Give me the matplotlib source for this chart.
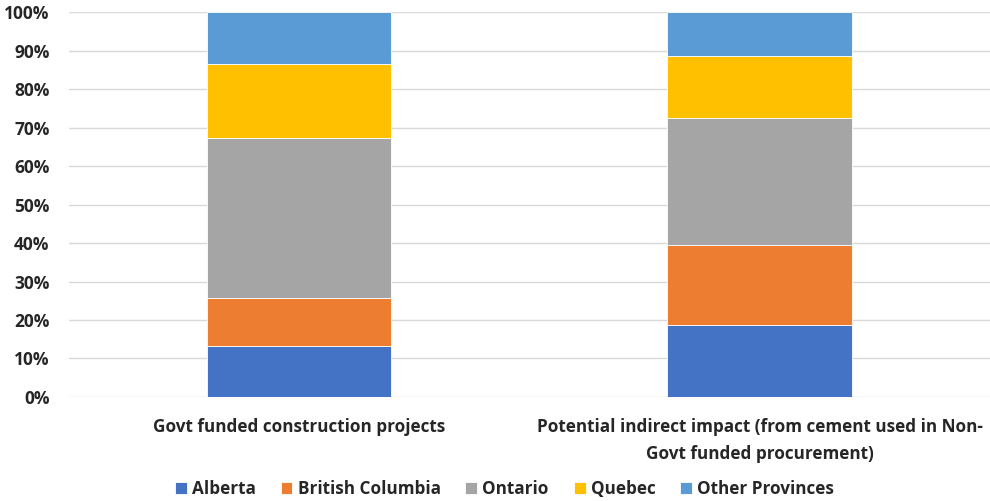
import matplotlib.pyplot as plt
from matplotlib.ticker import PercentFormatter

plt.rcParams['font.family'] = ['Open Sans', 'DejaVu Sans']

categories = ["Govt funded construction projects",
              "Potential indirect impact (from cement used in Non-\nGovt funded procurement)"]
series = ["Alberta", "British Columbia", "Ontario", "Quebec", "Other Provinces"]
alberta = [13.2, 18.7]
british_columbia = [12.4, 20.8]
ontario = [41.8, 33.0]
quebec = [19.2, 16.2]
other = [13.4, 11.3]
colors = ["#4472C4", "#ED7D31", "#A5A5A5", "#FFC000", "#5B9BD5"]

fig = plt.figure(figsize=(9.9, 5.01), dpi=100)
ax = fig.add_axes([0.0697, 0.2076, 0.93, 0.7684])

x = range(len(categories))
bottom = [0.0, 0.0]
for name, vals, c in zip(series, [alberta, british_columbia, ontario, quebec, other], colors):
    ax.bar(x, vals, width=0.4, bottom=bottom, color=c, label=name,
           edgecolor="white", linewidth=0.6, zorder=3)
    bottom = [b + v for b, v in zip(bottom, vals)]

ax.set_xlim(-0.5, 1.5)
ax.set_ylim(0, 100)
ax.set_yticks(range(0, 101, 10))
ax.yaxis.set_major_formatter(PercentFormatter(decimals=0))
ax.grid(axis="y", color="#d9d9d9", linewidth=1, zorder=0)
for s in ax.spines.values():
    s.set_visible(False)
ax.tick_params(axis="both", length=0, colors="#262626")
ax.tick_params(axis="y", pad=14, labelsize=12.5)
ax.tick_params(axis="x", pad=15, labelsize=12.3)
ax.set_xticks(list(x))
ax.set_xticklabels(categories, fontweight="bold", linespacing=1.65)
for t in ax.get_yticklabels():
    t.set_fontweight("bold")

leg = ax.legend(loc="center", bbox_to_anchor=(0.473, -0.24), ncol=5, frameon=False,
                handlelength=0.7, handleheight=0.7, handletextpad=0.3, columnspacing=1.45,
                prop={"size": 12.3, "weight": "bold"})
for t in leg.get_texts():
    t.set_color("#262626")

fig.savefig("out.png", dpi=100)
